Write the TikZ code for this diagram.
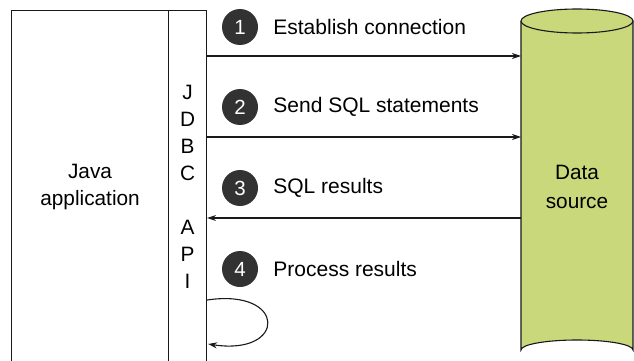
\documentclass[tikz,border=0pt]{standalone}
\usepackage{fontspec}
\setmainfont{Liberation Sans}
\usepackage{tikz}
\usetikzlibrary{arrows.meta,positioning}
\definecolor{dsGreen}{RGB}{201,216,123}
\definecolor{stepDark}{RGB}{50,50,50}
\definecolor{lineDark}{RGB}{25,25,25}

\tikzset{
  box/.style={draw=lineDark, line width=1.1pt, inner sep=0pt, anchor=north west,
              align=center, font=\fontsize{20.8}{27}\selectfont},
  stepdot/.style={circle, fill=stepDark, text=white, minimum size=36pt, inner sep=0pt,
                  font=\fontsize{20.5}{22}\selectfont},
  steplabel/.style={right=12pt of #1, inner sep=3pt, font=\fontsize{21}{24}\selectfont},
  flow/.style={draw=lineDark, line width=1.1pt, -{Stealth[length=9pt,width=6pt]}}
}

\begin{document}
\begin{tikzpicture}[x=1pt,y=-1pt]
    \useasboundingbox (0,0) rectangle (634,361);

    % java application and JDBC API column
    \node[box, minimum width=157pt, minimum height=352pt] (app) at (11,10) {Java\\application};
    \node[box, minimum width=38pt, minimum height=352pt] (api) at (168,10) {J\\D\\B\\C\\[0pt]\mbox{}\\A\\P\\I};

    % data source cylinder
    \fill[dsGreen] (521,21) -- (521,350) arc[start angle=180, end angle=360, x radius=56, y radius=10]
        -- (633,21) arc[start angle=0, end angle=180, x radius=56, y radius=12] -- cycle;
    \draw[lineDark, line width=1.1pt] (521,21) -- (521,350) arc[start angle=180, end angle=360, x radius=56, y radius=10]
        -- (633,21);
    \draw[lineDark, line width=1.1pt, fill=dsGreen] (577,21) ellipse[x radius=56, y radius=12];
    \node[align=center, font=\fontsize{20.8}{29}\selectfont] (db) at (577,187) {Data\\source};
    \coordinate (dbw) at (521,187);

    % rows
    \coordinate (row1) at (0,56);
    \coordinate (row2) at (0,137);
    \coordinate (row3) at (0,218);
    \coordinate (loopA) at (0,300);
    \coordinate (loopB) at (0,344);

    % steps
    \node[stepdot] (s1) at (240,27) {1};
    \node[steplabel=s1] (l1) {Establish connection};
    \node[stepdot] (s2) at (240,107) {2};
    \node[steplabel=s2] (l2) {Send SQL statements};
    \node[stepdot] (s3) at (240,188) {3};
    \node[steplabel=s3] (l3) {SQL results};
    \node[stepdot] (s4) at (240,269) {4};
    \node[steplabel=s4] (l4) {Process results};

    % connectors
    \draw[flow] (api.east |- row1) -- (dbw |- row1);
    \draw[flow] (api.east |- row2) -- (dbw |- row2);
    \draw[flow] (dbw |- row3) -- (api.east |- row3);
    \draw[flow] (api.east |- loopA) .. controls (287,288) and (287,356) .. ([xshift=1pt]api.east |- loopB);

\end{tikzpicture}
\end{document}
